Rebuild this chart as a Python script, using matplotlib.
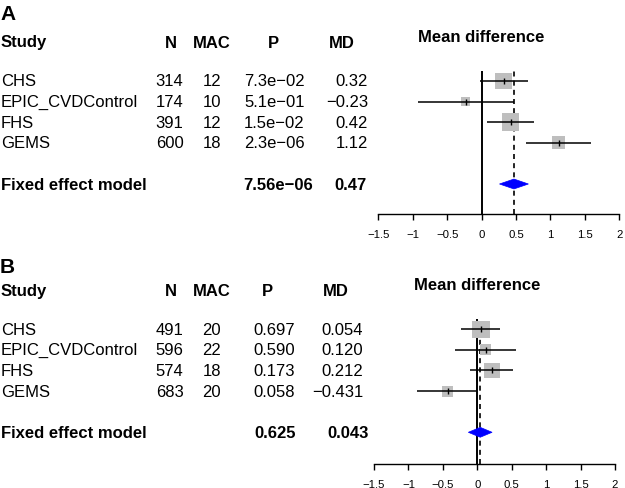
import matplotlib
matplotlib.use("Agg")
import matplotlib.pyplot as plt
import matplotlib.transforms as mtransforms
from matplotlib.patches import Polygon
import numpy as np

plt.rcParams['font.family'] = ['Liberation Sans', 'DejaVu Sans']

studies = ["CHS", "EPIC_CVDControl", "FHS", "GEMS"]

# Panel A
a_n = [314, 174, 391, 600]
a_mac = [12, 10, 12, 18]
a_p = ["7.3e-02", "5.1e-01", "1.5e-02", "2.3e-06"]
a_md = [0.32, -0.23, 0.42, 1.12]
a_lo = [-0.03, -0.93, 0.08, 0.65]
a_hi = [0.68, 0.47, 0.76, 1.59]
a_fixed_p = "7.56e-06"
a_fixed_md = 0.47
a_fixed_lo = 0.26
a_fixed_hi = 0.68

# Panel B
b_n = [491, 596, 574, 683]
b_mac = [20, 22, 18, 20]
b_p = ["0.697", "0.590", "0.173", "0.058"]
b_md = [0.054, 0.120, 0.212, -0.431]
b_lo = [-0.23, -0.32, -0.10, -0.88]
b_hi = [0.33, 0.56, 0.52, 0.00]
b_fixed_p = "0.625"
b_fixed_md = 0.043
b_fixed_lo = -0.13
b_fixed_hi = 0.215

ticks = [-1.5, -1, -0.5, 0, 0.5, 1, 1.5, 2]
tick_labels = ["-1.5", "-1", "-0.5", "0", "0.5", "1", "1.5", "2"]

W, H = 625, 489
fig = plt.figure(figsize=(W / 100, H / 100), dpi=100)
bg = fig.add_axes([0, 0, 1, 1])
bg.set_xlim(0, W)
bg.set_ylim(H, 0)
bg.axis('off')

MINUS = "\u2212"


def fmt_md(v, nd):
    s = f"{v:.{nd}f}"
    return s.replace("-", MINUS)


def panel(letter, top_px, left_px, right_px, bottom_px, n, mac, p, md, lo, hi,
          fp, fmd, flo, fhi, nd, cols):
    # forest axes: rows 0..3 studies, 5 summary
    row_px = 20.6
    y_top = -0.5
    y_bot = y_top + (bottom_px - top_px) / row_px
    ax = fig.add_axes([left_px / W, 1 - bottom_px / H,
                       (right_px - left_px) / W, (bottom_px - top_px) / H])
    ax.set_xlim(-1.5, 2)
    ax.set_ylim(y_bot, y_top)
    ax.patch.set_alpha(0)
    for s in ['top', 'right', 'left']:
        ax.spines[s].set_visible(False)
    ax.spines['bottom'].set_linewidth(1.0)
    ax.set_yticks([])
    ax.set_xticks(ticks)
    ax.set_xticklabels([t.replace("-", MINUS) for t in tick_labels], fontsize=8.2)
    ax.tick_params(axis='x', length=4.3, width=1.0, pad=6.5)

    rows = np.arange(len(md))
    ax.axvline(0, color='black', lw=1.4, zorder=1)
    ax.axvline(fmd, color='black', lw=1.2, ls=(0, (3, 2.5)), zorder=1)

    lo_a = np.array(lo)
    hi_a = np.array(hi)
    se = (hi_a - lo_a) / (2 * 1.96)
    sw = np.sqrt(1 / se ** 2)
    side_px = 17.5 * sw / sw.max()
    side_pt = side_px * 0.72
    ax.scatter(md, rows, marker='s', s=side_pt ** 2, color='#BEBEBE',
               linewidths=0, zorder=2)
    ax.hlines(rows, lo, hi, color='black', lw=1.1, zorder=3)
    ax.plot(md, rows, ls='none', marker='|', ms=4.3, mew=1.0, color='black', zorder=4)

    ys = 5
    hh = 0.24
    diamond = Polygon([[flo, ys], [fmd, ys - hh], [fhi, ys], [fmd, ys + hh]],
                      closed=True, facecolor='#0000FF', edgecolor='#0000FF', lw=0.5,
                      zorder=5)
    ax.add_patch(diamond)

    ax.text(0, y_top - 34 / row_px, "Mean difference",
            ha='center', va='center', fontsize=12, fontweight='bold', clip_on=False)

    tr = mtransforms.blended_transform_factory(bg.transData, ax.transData)
    hdr_y = y_top - (top_px - cols['hdr_px']) / row_px
    let_y = y_top - (top_px - cols['let_px']) / row_px
    bg.text(0, let_y, letter, transform=tr, ha='left', va='center', fontsize=15,
            fontweight='bold')
    bg.text(1, hdr_y, "Study", transform=tr, ha='left', va='center', fontsize=12,
            fontweight='bold')
    bg.text(cols['n_h'], hdr_y, "N", transform=tr, ha='center', va='center', fontsize=12,
            fontweight='bold')
    bg.text(cols['mac_h'], hdr_y, "MAC", transform=tr, ha='center', va='center',
            fontsize=12, fontweight='bold')
    bg.text(cols['p_h'], hdr_y, "P", transform=tr, ha='center', va='center', fontsize=12,
            fontweight='bold')
    bg.text(cols['md_h'], hdr_y, "MD", transform=tr, ha='center', va='center',
            fontsize=12, fontweight='bold')
    for i in range(len(md)):
        bg.text(1, i, studies[i], transform=tr, ha='left', va='center', fontsize=12)
        bg.text(cols['n_r'], i, str(n[i]), transform=tr, ha='right', va='center',
                fontsize=12)
        bg.text(cols['mac_r'], i, str(mac[i]), transform=tr, ha='right', va='center',
                fontsize=12)
        bg.text(cols['p_r'], i, p[i].replace("-", MINUS), transform=tr, ha='right',
                va='center', fontsize=12)
        bg.text(cols['md_r'], i, fmt_md(md[i], nd), transform=tr, ha='right',
                va='center', fontsize=12)
    bg.text(1, ys, "Fixed effect model", transform=tr, ha='left', va='center',
            fontsize=12, fontweight='bold')
    bg.text(cols['fp_r'], ys, fp.replace("-", MINUS), transform=tr, ha='right',
            va='center', fontsize=12, fontweight='bold')
    bg.text(cols['fmd_r'], ys, fmt_md(fmd, nd), transform=tr, ha='right',
            va='center', fontsize=12, fontweight='bold')


panel("A", 71.7, 378.3, 619.3, 215, a_n, a_mac, a_p, a_md, a_lo, a_hi,
      a_fixed_p, a_fixed_md, a_fixed_lo, a_fixed_hi, 2,
      dict(hdr_px=43, let_px=14, n_h=171, mac_h=211.5, p_h=273, md_h=341.5,
           n_r=183.5, mac_r=221, p_r=304.5, md_r=368, fp_r=313, fmd_r=367))

panel("B", 320, 374, 615, 465, b_n, b_mac, b_p, b_md, b_lo, b_hi,
      b_fixed_p, b_fixed_md, b_fixed_lo, b_fixed_hi, 3,
      dict(hdr_px=292, let_px=268, n_h=171, mac_h=211.5, p_h=267, md_h=336,
           n_r=183.5, mac_r=221, p_r=295, md_r=363, fp_r=296, fmd_r=369))

fig.savefig("out.png", dpi=100)
